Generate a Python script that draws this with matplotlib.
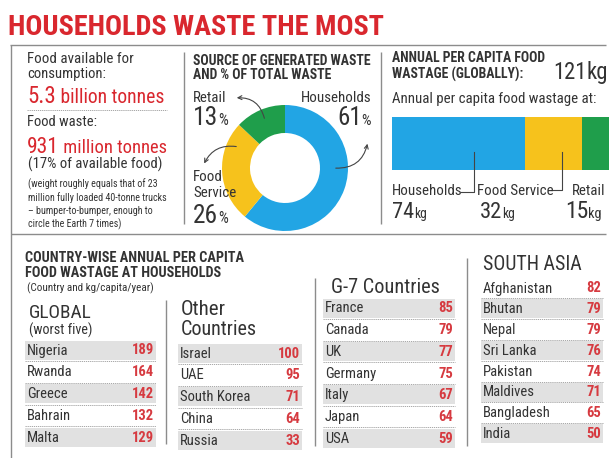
import matplotlib
matplotlib.use('Agg')
import matplotlib.pyplot as plt
from matplotlib import font_manager
from matplotlib.patches import Rectangle

# ---------------- data ----------------
source_labels = ['Households', 'Food Service', 'Retail']
source_share = [61, 26, 13]
percap_kg = [74, 32, 15]
percap_total = 121
seg_colors = ['#22a5e4', '#f6c21c', '#1f9e4b']

global_countries = ['Nigeria', 'Rwanda', 'Greece', 'Bahrain', 'Malta']
global_values = [189, 164, 142, 132, 129]
other_countries = ['Israel', 'UAE', 'South Korea', 'China', 'Russia']
other_values = [100, 95, 71, 64, 33]
g7_countries = ['France', 'Canada', 'UK', 'Germany', 'Italy', 'Japan', 'USA']
g7_values = [85, 79, 77, 75, 67, 64, 59]
sa_countries = ['Afghanistan', 'Bhutan', 'Nepal', 'Sri Lanka', 'Pakistan',
                'Maldives', 'Bangladesh', 'India']
sa_values = [82, 79, 79, 76, 74, 71, 65, 50]

# ---------------- fonts ----------------
names = {f.name for f in font_manager.fontManager.ttflist}
FONT = 'DejaVu Sans'
for cand in ['Liberation Sans Narrow', 'Roboto Condensed', 'Open Sans Condensed', 'Roboto']:
    if cand in names:
        FONT = cand
        break
FAM = [FONT, 'DejaVu Sans']

RED = '#d9272e'
NUMRED = '#d63a40'
DARK = '#333333'
LINE = '#8c8c8c'
SHADE = '#e1e1e1'

fig = plt.figure(figsize=(6.09, 4.58), dpi=100)
fig.patch.set_facecolor('white')
ax = fig.add_axes([0, 0, 1, 1])
ax.set_xlim(0, 609)
ax.set_ylim(458, 0)
ax.axis('off')
ax.set_zorder(3)
fig.canvas.draw()
R = fig.canvas.get_renderer()


def txt(x, y, s, size, color=DARK, weight='normal', ha='left', va='baseline', width=None):
    t = ax.text(x, y, s, fontsize=size, color=color, fontweight=weight, ha=ha, va=va,
                family=FAM)
    if width:
        w = t.get_window_extent(R).width
        t.set_fontsize(size * width / w)
    return t


def seq(x, y, pieces, width=None):
    objs = []
    x0 = x
    for s, size, color, weight in pieces:
        t = ax.text(x, y, s, fontsize=size, color=color, fontweight=weight,
                    va='baseline', ha='left', family=FAM)
        objs.append(t)
        x += t.get_window_extent(R).width
    if width:
        k = width / (x - x0)
        x = x0
        for t in objs:
            t.set_fontsize(t.get_fontsize() * k)
            t.set_x(x)
            x += t.get_window_extent(R).width
    return objs


def hline(x0, x1, y, **kw):
    ax.plot([x0, x1], [y, y], color=kw.get('color', LINE), lw=kw.get('lw', 1.0),
            ls=kw.get('ls', '-'), solid_capstyle='butt')


def vline(x, y0, y1, **kw):
    ax.plot([x, x], [y0, y1], color=kw.get('color', LINE), lw=kw.get('lw', 1.0),
            solid_capstyle='butt')


# ---------------- title & frame ----------------
txt(8, 35, 'HOUSEHOLDS WASTE THE MOST', 20, color=RED, weight='heavy', width=377)
hline(10, 606, 45)
vline(11, 45, 458)
hline(11, 606, 234)
vline(184, 52, 224)
vline(381, 52, 224)

# ---------------- left panel ----------------
txt(27, 63, 'Food available for', 10.5, width=106)
txt(27, 78, 'consumption:', 10.5)
seq(27, 103, [('5.3', 14, RED, 'normal'), (' billion tonnes', 12, RED, 'normal')], width=138)
hline(27, 167, 110, ls=(0, (1.5, 1)), lw=0.6, color='#999999')
txt(27, 126, 'Food waste:', 10.5)
seq(27, 153, [('931', 14, RED, 'normal'), (' million tonnes', 12, RED, 'normal')], width=140)
txt(28, 169, '(17% of available food)', 9, width=135)

small = ['(weight roughly equals that of 23', 'million fully loaded 40-tonne trucks',
         '\u2013 bumper-to-bumper, enough to', 'circle the Earth 7 times)']
tw = txt(0, 0, small[1], 6.5, width=138)
sfs = tw.get_fontsize()
tw.remove()
ax.text(28, 178, '\n'.join(small), fontsize=sfs, color=DARK, va='top', ha='left',
        family=FAM, linespacing=1.32)

# ---------------- middle panel: donut ----------------
th = txt(193, 65, 'SOURCE OF GENERATED WASTE', 8, weight='bold', width=177)
hsize = th.get_fontsize()
txt(193, 79, 'AND % OF TOTAL WASTE', hsize, weight='bold')

cx, cy, rout, rin = 285, 168, 63, 35
axd = fig.add_axes([(cx - 66) / 609, 1 - (cy + 66) / 458, 132 / 609, 132 / 458])
axd.pie(source_share, colors=seg_colors, startangle=90, counterclock=False,
        radius=rout / 66, wedgeprops=dict(width=(rout - rin) / 66, edgecolor='none'))
axd.set_xlim(-1, 1)
axd.set_ylim(-1, 1)
axd.axis('off')

txt(193, 102, source_labels[2], 10.8)
seq(193, 125, [(str(source_share[2]), 14, DARK, 'normal'), ('%', 8.5, DARK, 'normal')], width=35)
txt(371, 102, source_labels[0], 10.8, ha='right')
seq(337, 125, [(str(source_share[0]), 14, DARK, 'normal'), ('%', 8.5, DARK, 'normal')], width=34)
txt(193, 181, 'Food', 10.8)
txt(193, 197, 'Service', 10.8)
seq(193, 223, [(str(source_share[1]), 14, DARK, 'normal'), ('%', 8.5, DARK, 'normal')], width=35)

ap = dict(arrowstyle='->', color='#444444', lw=0.8, mutation_scale=7)
ax.annotate('', xy=(234, 98), xytext=(265, 121),
            arrowprops=dict(ap, connectionstyle='arc3,rad=0.45'))
ax.annotate('', xy=(203, 166), xytext=(239, 147),
            arrowprops=dict(ap, connectionstyle='arc3,rad=0.4'))
ax.annotate('', xy=(368, 141), xytext=(333, 168),
            arrowprops=dict(ap, connectionstyle='arc3,rad=0.45'))

# ---------------- right panel: stacked bar ----------------
txt(392, 62, 'ANNUAL PER CAPITA FOOD', hsize, weight='bold')
txt(392, 79, 'WASTAGE (GLOBALLY):', hsize, weight='bold')
seq(553, 79, [(str(percap_total), 14, DARK, 'normal'), ('kg', 14, DARK, 'normal')], width=55)
txt(392, 103, 'Annual per capita food wastage at:', 10.8, width=206)

bx0, bx1, by0, by1 = 392, 609, 117, 170
axb = fig.add_axes([bx0 / 609, 1 - by1 / 458, (bx1 - bx0) / 609, (by1 - by0) / 458])
left = 0
for v, c in zip(percap_kg, seg_colors):
    axb.barh(0, v, left=left, color=c, height=1.0, edgecolor='none')
    left += v
axb.set_xlim(0, percap_total)
axb.set_ylim(-0.5, 0.5)
axb.axis('off')

scale = (bx1 - bx0) / percap_total
hx = bx0 + 0.62 * percap_kg[0] * scale
fx = bx0 + (percap_kg[0] + 0.65 * percap_kg[1]) * scale
ax.plot([hx, hx, hx - 13], [152, 192, 192], color='#444444', lw=0.8)
ax.plot([fx, fx, fx - 11], [152, 190, 190], color='#444444', lw=0.8)

lab_x = [392, 477, 572]
num_x = [392, 480, 565]
num_w = [35, 35, 37]
for i in range(3):
    txt(lab_x[i], 195, source_labels[i], 10.8)
    seq(num_x[i], 218, [(str(percap_kg[i]), 14, DARK, 'normal'), ('kg', 8.5, DARK, 'normal')],
        width=num_w[i])

# ---------------- bottom: country tables ----------------
tb = txt(25, 262, 'COUNTRY-WISE ANNUAL PER CAPITA', 8, weight='bold', width=218)
txt(25, 277, 'FOOD WASTAGE AT HOUSEHOLDS', tb.get_fontsize(), weight='bold')
txt(27, 291, '(Country and kg/capita/year)', 7, width=128)

ROWFS = 10.5


def table(x0, x1, y0, step, countries, values, shade_even=True, h=19):
    for i, (n, v) in enumerate(zip(countries, values)):
        yc = y0 + i * step
        if (i % 2 == 0) == shade_even:
            ax.add_patch(Rectangle((x0, yc - h / 2), x1 - x0, h, facecolor=SHADE,
                                   edgecolor='none', zorder=1))
        ax.text(x0 + 2, yc + 0.5, n, fontsize=ROWFS, color=DARK, va='center', ha='left',
                family=FAM, zorder=3)
        ax.text(x1 - 2, yc + 0.5, str(v), fontsize=ROWFS, color=NUMRED, va='center',
                ha='right', fontweight='bold', family=FAM, zorder=3)
        if i < len(countries) - 1:
            ax.plot([x0, x1], [yc + step / 2, yc + step / 2], color='#9a9a9a', lw=0.6,
                    ls=(0, (1.5, 1)), zorder=2)


txt(29, 318, 'GLOBAL', 14, width=63)
txt(29, 335, '(worst five)', 8.8, width=64)
table(25, 156, 350, 21.8, global_countries, global_values)
vline(166, 300, 444)

txt(181, 315, 'Other', 14.5, width=45)
txt(181, 335, 'Countries', 14.5, width=76)
table(178, 302, 353, 21.8, other_countries, other_values)
vline(315, 278, 446)

txt(331, 293, 'G-7 Countries', 14.5, width=108)
table(323, 455, 308, 21.7, g7_countries, g7_values)
vline(467, 258, 446)

txt(483, 270, 'SOUTH ASIA', 14.5, width=99)
table(481, 603, 288, 20.8, sa_countries, sa_values, shade_even=False)

fig.savefig('out.png', dpi=100, facecolor='white')
